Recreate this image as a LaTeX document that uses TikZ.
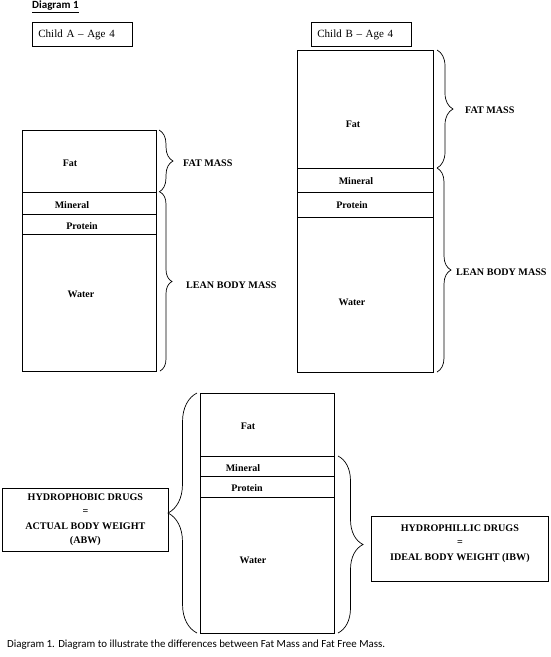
\documentclass[tikz,border=0pt]{standalone}
\usepackage{fontspec}
\setmainfont{Liberation Serif}
\newfontfamily\calibri{Carlito}
\usetikzlibrary{positioning, decorations.pathreplacing}

\begin{document}
\begin{tikzpicture}[
    x=1pt, y=-1pt,
    node distance=0pt,
    segbox/.style={rectangle, draw, line width=0.9pt, outer sep=0pt, inner sep=0pt},
    parttext/.style={inner sep=0pt, font=\bfseries\fontsize{10}{12}\selectfont},
    headbox/.style={rectangle, draw, line width=0.8pt, minimum height=24pt, text width=88pt, inner xsep=6pt, align=left, font=\fontsize{11}{13}\selectfont},
    masstext/.style={anchor=west, inner sep=0pt, font=\bfseries\fontsize{10.1}{13}\selectfont},
    drugbox/.style={rectangle, draw, line width=0.8pt, align=center, font=\bfseries\fontsize{10.1}{14.5}\selectfont},
    curly/.style={decorate, decoration={brace, amplitude=#1}, line width=0.7pt},
    curly/.default=14pt
]
\useasboundingbox (0,0) rectangle (551,657);

% title and captions
\node[anchor=west, inner sep=0pt, font=\calibri\bfseries\fontsize{11}{13}\selectfont] (title) at (32,7) {\underline{Diagram 1}};
\node[headbox, anchor=north west] (childa) at (32,22) {Child A -- Age 4};
\node[headbox, anchor=north west] (childb) at (311,22) {Child B -- Age 4};

% child A
\node[segbox, minimum width=134pt, minimum height=62pt, anchor=north west] (afat) at (22,130) {};
\node[segbox, minimum width=134pt, minimum height=22pt, below=of afat] (amin) {};
\node[segbox, minimum width=134pt, minimum height=20pt, below=of amin] (aprot) {};
\node[segbox, minimum width=134pt, minimum height=137pt, below=of aprot] (awater) {};
\node[parttext] (afatlbl) at (70,163) {Fat};
\node[parttext] (aminlbl) at (72,205) {Mineral};
\node[parttext] (aprotlbl) at (82,226) {Protein};
\node[parttext] (awaterlbl) at (81,294) {Water};

\draw[curly=14pt] ([xshift=3pt]afat.north east) -- ([xshift=3pt]afat.south east);
\draw[curly=12pt] ([xshift=4pt]amin.north east) -- ([xshift=4pt]awater.south east);
\node[masstext] (afatmass) at (183,163) {FAT MASS};
\node[masstext] (aleanmass) at (186,285) {LEAN BODY MASS};

% child B
\node[segbox, minimum width=136pt, minimum height=118pt, anchor=north west] (bfat) at (297,50) {};
\node[segbox, minimum width=136pt, minimum height=24pt, below=of bfat] (bmin) {};
\node[segbox, minimum width=136pt, minimum height=25pt, below=of bmin] (bprot) {};
\node[segbox, minimum width=136pt, minimum height=155pt, below=of bprot] (bwater) {};
\node[parttext] (bfatlbl) at (353,124) {Fat};
\node[parttext] (bminlbl) at (356,181) {Mineral};
\node[parttext] (bprotlbl) at (352,205) {Protein};
\node[parttext] (bwaterlbl) at (352,302) {Water};

\draw[curly=16pt] ([xshift=4pt]bfat.north east) -- ([xshift=4pt]bfat.south east);
\draw[curly=14pt] ([xshift=4pt]bmin.north east) -- ([xshift=4pt]bwater.south east);
\node[masstext] (bfatmass) at (465,110) {FAT MASS};
\node[masstext] (bleanmass) at (456,272) {LEAN BODY MASS};

% drug dosing
\node[segbox, minimum width=134pt, minimum height=63pt, anchor=north west] (cfat) at (200,393) {};
\node[segbox, minimum width=134pt, minimum height=20pt, below=of cfat] (cmin) {};
\node[segbox, minimum width=134pt, minimum height=21pt, below=of cmin] (cprot) {};
\node[segbox, minimum width=134pt, minimum height=136pt, below=of cprot] (cwater) {};
\node[parttext] (cfatlbl) at (248,426) {Fat};
\node[parttext] (cminlbl) at (243,468) {Mineral};
\node[parttext] (cprotlbl) at (247,488) {Protein};
\node[parttext] (cwaterlbl) at (253,560) {Water};

\draw[curly=29pt] ([xshift=-3pt]cwater.south west) -- ([xshift=-3pt]cfat.north west);
\draw[curly=25pt] ([xshift=4pt]cmin.north east) -- ([xshift=4pt]cwater.south east);

\node[drugbox, minimum width=166pt, minimum height=63pt, anchor=north west] (abw) at (2,488) {HYDROPHOBIC DRUGS\\=\\ACTUAL BODY WEIGHT\\(ABW)};
\node[drugbox, minimum width=177pt, minimum height=65pt, anchor=north west] (ibw) at (371,516) {};
\node[drugbox, draw=none, below=5pt of ibw.north] (ibwtext) {HYDROPHILLIC DRUGS\\=\\IDEAL BODY WEIGHT (IBW)};

\node[anchor=west, inner sep=0pt, font=\calibri\fontsize{10.9}{12}\selectfont] (caption) at (7,645) {Diagram 1. Diagram to illustrate the differences between Fat Mass and Fat Free Mass.};
\end{tikzpicture}
\end{document}
